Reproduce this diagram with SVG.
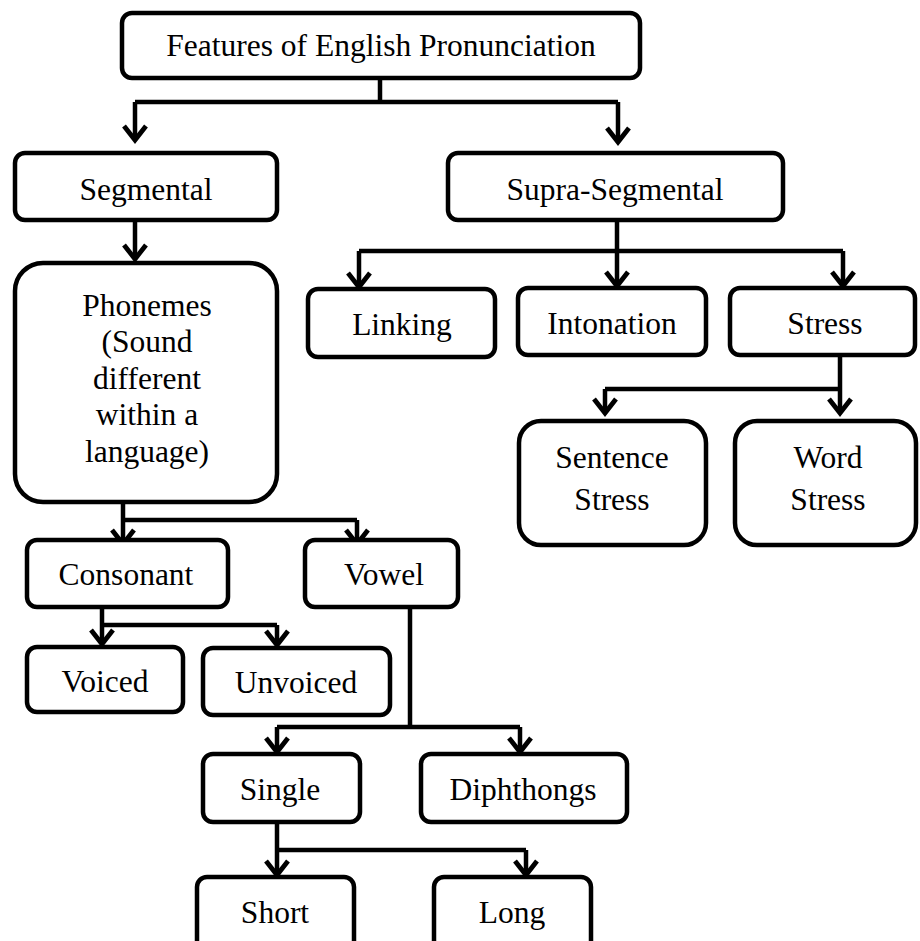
<svg xmlns="http://www.w3.org/2000/svg" width="920" height="941" viewBox="0 0 920 941">
<defs>
<style>
.box{fill:#fff;stroke:#000;stroke-width:4.5}
.con{fill:none;stroke:#000;stroke-width:4.5;stroke-linejoin:miter}
.lbl text{font-family:'Liberation Serif','Times New Roman',serif;font-size:31.5px;fill:#000;text-anchor:middle}
</style>
<marker id="chev" markerUnits="userSpaceOnUse" orient="auto" markerWidth="30" markerHeight="30" refX="0" refY="0" overflow="visible">
<path d="M-14,-11 L0,0 L-14,11" fill="none" stroke="#000" stroke-width="4.8" stroke-linejoin="miter"/>
</marker>
</defs>
<rect width="920" height="941" fill="#fff"/>

<g id="connectors">
<path class="con" d="M380,78 V102"/>
<path class="con" d="M135,102 H618"/>
<path class="con" d="M135,102 V140" marker-end="url(#chev)"/>
<path class="con" d="M618,102 V142" marker-end="url(#chev)"/>
<path class="con" d="M135,220 V259" marker-end="url(#chev)"/>
<path class="con" d="M617,220 V251"/>
<path class="con" d="M359,251 H843"/>
<path class="con" d="M359,251 V287" marker-end="url(#chev)"/>
<path class="con" d="M617,251 V286" marker-end="url(#chev)"/>
<path class="con" d="M843,251 V286" marker-end="url(#chev)"/>
<path class="con" d="M840,355 V389"/>
<path class="con" d="M605,389 H840"/>
<path class="con" d="M605,389 V413" marker-end="url(#chev)"/>
<path class="con" d="M840,389 V413" marker-end="url(#chev)"/>
<path class="con" d="M123,502 V520"/>
<path class="con" d="M123,520 H357"/>
<path class="con" d="M123,520 V544" marker-end="url(#chev)"/>
<path class="con" d="M357,520 V544" marker-end="url(#chev)"/>
<path class="con" d="M102,607 V625"/>
<path class="con" d="M102,625 H277"/>
<path class="con" d="M102,625 V644" marker-end="url(#chev)"/>
<path class="con" d="M277,625 V645" marker-end="url(#chev)"/>
<path class="con" d="M410,607 V727"/>
<path class="con" d="M277,727 H520"/>
<path class="con" d="M277,727 V752" marker-end="url(#chev)"/>
<path class="con" d="M520,727 V752" marker-end="url(#chev)"/>
<path class="con" d="M277,822 V850"/>
<path class="con" d="M277,850 H526"/>
<path class="con" d="M277,850 V875" marker-end="url(#chev)"/>
<path class="con" d="M526,850 V875" marker-end="url(#chev)"/>
</g>

<g class="lbl" font-family="Liberation Serif, serif" font-size="31.5" text-anchor="middle" fill="#000">
<g id="n-features"><rect class="box" x="122" y="13" width="518" height="65" rx="10"/><text x="381" y="56">Features of English Pronunciation</text></g>
<g id="n-segmental"><rect class="box" x="15" y="153" width="262" height="67" rx="10"/><text x="146" y="200">Segmental</text></g>
<g id="n-supra"><rect class="box" x="448" y="153" width="335" height="67" rx="10"/><text x="615" y="200">Supra-Segmental</text></g>
<g id="n-phonemes"><rect class="box" x="15" y="263" width="262" height="239" rx="28"/>
<text x="147" y="316">Phonemes</text>
<text x="147" y="352">(Sound</text>
<text x="147" y="389">different</text>
<text x="147" y="425">within a</text>
<text x="147" y="462">language)</text></g>
<g id="n-linking"><rect class="box" x="308" y="289" width="187" height="68" rx="10"/><text x="402" y="335">Linking</text></g>
<g id="n-intonation"><rect class="box" x="518" y="288" width="188" height="67" rx="10"/><text x="612" y="334">Intonation</text></g>
<g id="n-stress"><rect class="box" x="730" y="288" width="185" height="67" rx="10"/><text x="825" y="334">Stress</text></g>
<g id="n-sentence-stress"><rect class="box" x="519" y="421" width="187" height="124" rx="22"/>
<text x="612" y="468">Sentence</text><text x="612" y="510">Stress</text></g>
<g id="n-word-stress"><rect class="box" x="735" y="421" width="181" height="124" rx="22"/>
<text x="828" y="468">Word</text><text x="828" y="510">Stress</text></g>
<g id="n-consonant"><rect class="box" x="27" y="540" width="201" height="67" rx="10"/><text x="126" y="585">Consonant</text></g>
<g id="n-vowel"><rect class="box" x="305" y="540" width="153" height="67" rx="10"/><text x="384" y="585">Vowel</text></g>
<g id="n-voiced"><rect class="box" x="27" y="647" width="156" height="65" rx="10"/><text x="105" y="692">Voiced</text></g>
<g id="n-unvoiced"><rect class="box" x="203" y="648" width="187" height="67" rx="10"/><text x="296" y="693">Unvoiced</text></g>
<g id="n-single"><rect class="box" x="203" y="754" width="157" height="68" rx="10"/><text x="280" y="800">Single</text></g>
<g id="n-diphthongs"><rect class="box" x="421" y="754" width="206" height="68" rx="10"/><text x="523" y="800">Diphthongs</text></g>
<g id="n-short"><rect class="box" x="197" y="877" width="157" height="90" rx="10"/><text x="275" y="923">Short</text></g>
<g id="n-long"><rect class="box" x="434" y="877" width="157" height="90" rx="10"/><text x="512" y="923">Long</text></g>
</g>
</svg>
